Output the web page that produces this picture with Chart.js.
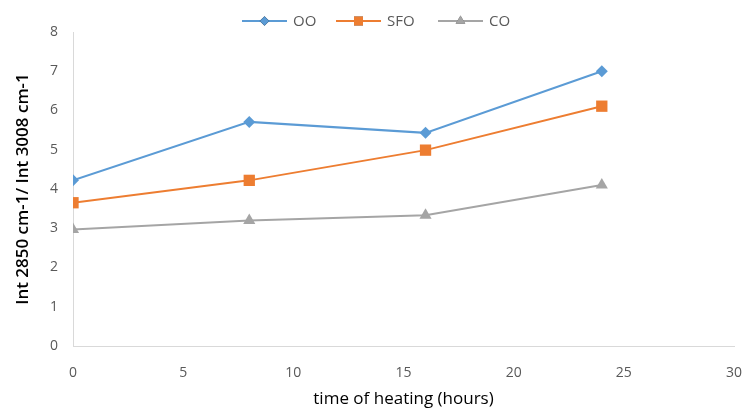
<!DOCTYPE html>
<html>
<head>
  <meta charset="UTF-8">
  <title>Int 2850 / Int 3008 vs time of heating</title>
  <script src="https://cdn.jsdelivr.net/npm/chart.js"></script>
  <style>
    html, body { margin: 0; padding: 0; background: #fff; }
    #wrap { width: 746px; height: 413px; }
  </style>
</head>
<body>
  <div id="wrap"><canvas id="chart" width="746" height="413"></canvas></div>

  <script>
    // data
    const hours = [0, 8, 16, 24];
    const ooValues = [4.22, 5.71, 5.43, 7.0];
    const sfoValues = [3.65, 4.22, 4.99, 6.11];
    const coValues = [2.97, 3.2, 3.33, 4.1];
    const seriesNames = ['OO', 'SFO', 'CO'];
    const seriesColors = ['#5B9BD5', '#ED7D31', '#A5A5A5'];
    const seriesMarkers = ['rectRot', 'rect', 'triangle'];
    const markerSizes = [6, 8, 7];

    const font = "'Open Sans', 'DejaVu Sans', sans-serif";

    function toPoints(vals) {
      return hours.map((h, i) => ({ x: h, y: vals[i] }));
    }

    const allValues = [ooValues, sfoValues, coValues];
    const datasets = allValues.map((vals, i) => ({
      label: seriesNames[i],
      data: toPoints(vals),
      showLine: true,
      borderColor: seriesColors[i],
      backgroundColor: seriesColors[i],
      borderWidth: 2,
      pointStyle: seriesMarkers[i],
      pointRadius: markerSizes[i],
      pointHoverRadius: markerSizes[i],
      pointBorderWidth: 0
    }));

    // legend drawn as line + marker, like the original
    const legendLine = {
      id: 'legendLine',
      afterDraw(chart) {
        const ctx = chart.ctx;
        const y = 21;
        const starts = [242, 336, 438];
        ctx.save();
        ctx.font = "15px " + font;
        ctx.textBaseline = 'middle';
        starts.forEach((x0, i) => {
          ctx.strokeStyle = seriesColors[i];
          ctx.lineWidth = 2;
          ctx.beginPath();
          ctx.moveTo(x0, y);
          ctx.lineTo(x0 + 45, y);
          ctx.stroke();
          Chart.helpers.drawPoint(ctx, {
            pointStyle: seriesMarkers[i],
            radius: markerSizes[i] * 0.8,
            rotation: 0,
            borderWidth: 0
          }, x0 + 22.5, y);
          ctx.fillStyle = seriesColors[i];
          ctx.fill();
          ctx.fillStyle = '#595959';
          ctx.fillText(seriesNames[i], x0 + 51, y + 1);
        });
        ctx.restore();
      }
    };

    new Chart(document.getElementById('chart'), {
      type: 'scatter',
      data: { datasets: datasets },
      plugins: [legendLine],
      options: {
        responsive: false,
        animation: false,
        layout: { padding: { top: 32, right: 0, left: 9, bottom: 0 } },
        plugins: {
          legend: { display: false },
          tooltip: { enabled: false }
        },
        scales: {
          x: {
            type: 'linear',
            min: 0,
            max: 30,
            ticks: { stepSize: 5, color: '#595959', font: { family: font, size: 14 }, padding: 19 },
            grid: { color: 'rgba(0,0,0,0)', drawTicks: false },
            border: { color: '#D9D9D9', width: 1 },
            title: {
              display: true,
              text: 'time of heating (hours)',
              color: '#000',
              font: { family: font, size: 17 },
              padding: { top: 1 }
            },
            afterFit(scale) {
              scale.height = 67;
              scale.paddingRight = 12;
            }
          },
          y: {
            min: 0,
            max: 8,
            ticks: { stepSize: 1, color: '#595959', font: { family: font, size: 14 }, padding: 15 },
            grid: { color: 'rgba(0,0,0,0)', drawTicks: false },
            border: { color: '#D9D9D9', width: 1 },
            title: {
              display: true,
              text: 'Int 2850 cm-1/ Int 3008 cm-1',
              color: '#000',
              font: { family: font, size: 17, weight: '600' },
              padding: { bottom: 2 }
            },
            afterFit(scale) { scale.width = 64; }
          }
        }
      }
    });
  </script>
</body>
</html>
